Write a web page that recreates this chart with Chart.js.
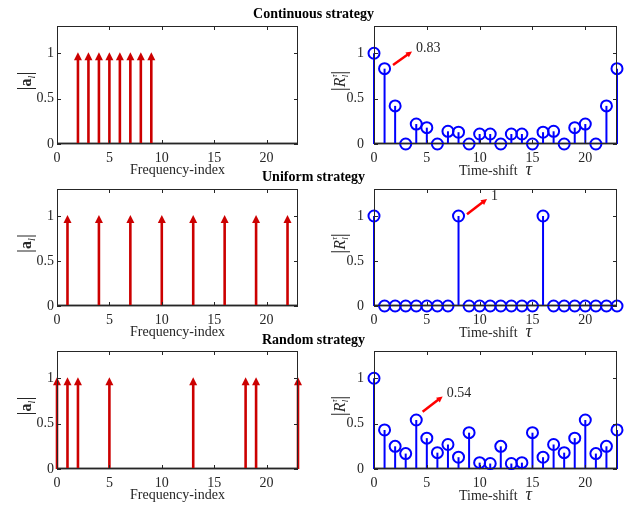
<!DOCTYPE html>
<html>
<head>
<meta charset="utf-8">
<script src="https://cdn.jsdelivr.net/npm/chart.js@4.4.1/dist/chart.umd.min.js"></script>
<style>
  body { margin:0; background:#fff; width:627px; height:509px; position:relative; overflow:hidden; font-family:"Liberation Serif", "Times New Roman", serif; }
  .box { position:absolute; }
  .title { position:absolute; left:0; width:627px; text-align:center; font-weight:bold; font-size:14px; line-height:16px; color:#000; z-index:5; }
</style>
</head>
<body>
<div class="title" style="top:6px">Continuous strategy</div>
<div class="title" style="top:169px">Uniform strategy</div>
<div class="title" style="top:332px">Random strategy</div>

<div class="box" style="left:0;top:6px"><canvas id="contFreqChart" width="313" height="175"></canvas></div>
<div class="box" style="left:313px;top:6px"><canvas id="contCorrChart" width="314" height="175"></canvas></div>
<div class="box" style="left:0;top:169px"><canvas id="uniFreqChart" width="313" height="174"></canvas></div>
<div class="box" style="left:313px;top:169px"><canvas id="uniCorrChart" width="314" height="174"></canvas></div>
<div class="box" style="left:0;top:331px"><canvas id="randFreqChart" width="313" height="175"></canvas></div>
<div class="box" style="left:313px;top:331px"><canvas id="randCorrChart" width="314" height="175"></canvas></div>

<script>
// tick labels
const xTicks = [0, 5, 10, 15, 20];
const yTicks = [0, 0.5, 1];

// active frequency indices (all amplitudes are 1)
const contFreq = [2, 3, 4, 5, 6, 7, 8, 9];
const uniFreq  = [1, 4, 7, 10, 13, 16, 19, 22];
const randFreq = [0, 1, 2, 5, 13, 18, 19, 23];

// time shifts and |R| values
const shifts = [0,1,2,3,4,5,6,7,8,9,10,11,12,13,14,15,16,17,18,19,20,21,22,23];
const contCorr = [1, 0.83, 0.42, 0, 0.22, 0.18, 0, 0.14, 0.13, 0, 0.11, 0.11, 0, 0.11, 0.11, 0, 0.13, 0.14, 0, 0.18, 0.22, 0, 0.42, 0.83];
const uniCorr  = [1, 0, 0, 0, 0, 0, 0, 0, 1, 0, 0, 0, 0, 0, 0, 0, 1, 0, 0, 0, 0, 0, 0, 0];
const randCorr = [1, 0.43, 0.25, 0.17, 0.54, 0.34, 0.18, 0.27, 0.13, 0.40, 0.07, 0.06, 0.25, 0.06, 0.07, 0.40, 0.13, 0.27, 0.18, 0.34, 0.54, 0.17, 0.25, 0.43];

// annotation arrows (data coords): start, end, label
const contNote = { from: [1.8, 0.87], to: [3.6, 1.02], text: "0.83" };
const uniNote  = { from: [8.8, 1.02], to: [10.7, 1.19], text: "1" };
const randNote = { from: [4.6, 0.63], to: [6.5, 0.80], text: "0.54" };

const SERIF = '"Liberation Serif", "Times New Roman", serif';
const AXIS_COLOR = "#262626";

// draw a rotated label made of styled pieces
function drawPieces(ctx, cx, cy, pieces) {
  ctx.save();
  ctx.translate(cx, cy);
  ctx.rotate(-Math.PI / 2);
  ctx.textBaseline = "middle";
  ctx.textAlign = "left";
  let total = 0;
  pieces.forEach(p => { ctx.font = p.font; p.w = ctx.measureText(p.text).width; if (p.advance !== false) total += p.w; });
  let x = -total / 2;
  pieces.forEach(p => {
    ctx.font = p.font;
    ctx.fillStyle = AXIS_COLOR;
    ctx.fillText(p.text, x, p.dy || 0);
    if (p.advance !== false) x += p.w;
  });
  ctx.restore();
}

const freqLabel = [
  { text: "|", font: "20px " + SERIF },
  { text: "a", font: "bold 16px " + SERIF, dy: 1 },
  { text: "l", font: "italic 10px " + SERIF, dy: 6 },
  { text: "|", font: "20px " + SERIF }
];
const corrLabel = [
  { text: "|", font: "20px " + SERIF },
  { text: "R", font: "italic 16px " + SERIF, dy: 1 },
  { text: "τ", font: "italic 8px " + SERIF, dy: -5, advance: false },
  { text: "l", font: "italic 9px " + SERIF, dy: 6 },
  { text: "|", font: "20px " + SERIF }
];

const stemPlugin = {
  id: "stems",
  beforeDatasetsDraw(chart, args, opts) {
    const { ctx, chartArea: a, scales: { x, y } } = chart;
    const y0 = y.getPixelForValue(0);
    ctx.save();
    // baseline
    ctx.strokeStyle = "#4a4a4a";
    ctx.lineWidth = 2;
    ctx.beginPath();
    ctx.moveTo(a.left, y0 - 0.5);
    ctx.lineTo(a.right, y0 - 0.5);
    ctx.stroke();

    chart.data.datasets.forEach(ds => {
      ds.data.forEach(p => {
        const px = x.getPixelForValue(p.x);
        const py = y.getPixelForValue(p.y);
        if (opts.kind === "arrow") {
          ctx.strokeStyle = "#cc0000";
          ctx.fillStyle = "#cc0000";
          ctx.lineWidth = 2.6;
          ctx.beginPath();
          ctx.moveTo(px, y0);
          ctx.lineTo(px, py + 5);
          ctx.stroke();
          ctx.beginPath();
          ctx.moveTo(px, py - 1);
          ctx.lineTo(px - 4, py + 7);
          ctx.lineTo(px + 4, py + 7);
          ctx.closePath();
          ctx.fill();
        } else if (p.y > 0) {
          ctx.strokeStyle = "#0000ff";
          ctx.lineWidth = 2;
          ctx.beginPath();
          ctx.moveTo(px, y0);
          ctx.lineTo(px, py);
          ctx.stroke();
        }
      });
    });
    ctx.restore();
  },
  afterDraw(chart, args, opts) {
    const { ctx, chartArea: a, scales: { x, y } } = chart;
    ctx.save();
    // box
    ctx.strokeStyle = AXIS_COLOR;
    ctx.lineWidth = 1;
    ctx.strokeRect(a.left + 0.5, a.top + 0.5, a.right - a.left - 1, a.bottom - a.top - 1);
    // inward ticks
    ctx.beginPath();
    xTicks.forEach(v => {
      const px = Math.round(x.getPixelForValue(v)) + 0.5;
      ctx.moveTo(px, a.bottom); ctx.lineTo(px, a.bottom - 4);
      ctx.moveTo(px, a.top); ctx.lineTo(px, a.top + 4);
    });
    yTicks.forEach(v => {
      const py = Math.round(y.getPixelForValue(v)) + 0.5;
      ctx.moveTo(a.left, py); ctx.lineTo(a.left + 4, py);
      ctx.moveTo(a.right, py); ctx.lineTo(a.right - 4, py);
    });
    ctx.stroke();

    // annotation arrow
    const n = opts.note;
    if (n) {
      const sx = x.getPixelForValue(n.from[0]), sy = y.getPixelForValue(n.from[1]);
      const ex = x.getPixelForValue(n.to[0]), ey = y.getPixelForValue(n.to[1]);
      const ang = Math.atan2(ey - sy, ex - sx);
      ctx.strokeStyle = "#ff0000";
      ctx.fillStyle = "#ff0000";
      ctx.lineWidth = 2.5;
      ctx.beginPath();
      ctx.moveTo(sx, sy);
      ctx.lineTo(ex - 4 * Math.cos(ang), ey - 4 * Math.sin(ang));
      ctx.stroke();
      ctx.beginPath();
      ctx.moveTo(ex, ey);
      ctx.lineTo(ex - 6 * Math.cos(ang) + 3 * Math.sin(ang), ey - 6 * Math.sin(ang) - 3 * Math.cos(ang));
      ctx.lineTo(ex - 6 * Math.cos(ang) - 3 * Math.sin(ang), ey - 6 * Math.sin(ang) + 3 * Math.cos(ang));
      ctx.closePath();
      ctx.fill();
      ctx.fillStyle = AXIS_COLOR;
      ctx.font = "14px " + SERIF;
      ctx.textAlign = "left";
      ctx.textBaseline = "middle";
      ctx.fillText(n.text, ex + 4, ey - 3);
    }

    // x axis label
    const cx = (a.left + a.right) / 2;
    ctx.fillStyle = AXIS_COLOR;
    ctx.textBaseline = "middle";
    if (opts.kind === "arrow") {
      ctx.font = "14px " + SERIF;
      ctx.textAlign = "center";
      ctx.fillText("Frequency-index", cx, a.bottom + 26);
    } else {
      ctx.font = "14px " + SERIF;
      const w1 = ctx.measureText("Time-shift").width;
      ctx.font = "italic 18px " + SERIF;
      const w2 = ctx.measureText("τ").width;
      const gap = 8;
      let sx = cx - (w1 + gap + w2) / 2;
      ctx.textAlign = "left";
      ctx.font = "14px " + SERIF;
      ctx.fillText("Time-shift", sx, a.bottom + 27);
      ctx.font = "italic 18px " + SERIF;
      ctx.fillText("τ", sx + w1 + gap, a.bottom + 26);
    }
    ctx.restore();

    // y axis label
    const lx = opts.kind === "arrow" ? a.left - 31 : a.left - 34;
    drawPieces(ctx, lx, (a.top + a.bottom) / 2 - 4, opts.kind === "arrow" ? freqLabel : corrLabel);
  }
};

function makeChart(id, points, kind, note, padLeft, padRight, yPad) {
  const isArrow = kind === "arrow";
  return new Chart(document.getElementById(id), {
    type: "scatter",
    data: {
      datasets: [{
        data: points,
        pointRadius: isArrow ? 0 : 5.5,
        pointBorderWidth: 2,
        pointBorderColor: "#0000ff",
        pointBackgroundColor: "rgba(0,0,0,0)",
        clip: false
      }]
    },
    options: {
      responsive: false,
      animation: false,
      events: [],
      layout: { padding: { left: padLeft, right: padRight, top: 20, bottom: 0 } },
      plugins: {
        legend: { display: false },
        tooltip: { enabled: false },
        stems: { kind: kind, note: note }
      },
      scales: {
        x: {
          type: "linear", min: 0, max: 23,
          grid: { display: false, drawTicks: false },
          border: { display: false },
          afterBuildTicks: s => { s.ticks = xTicks.map(v => ({ value: v })); },
          afterFit: s => { s.height = 37; },
          ticks: { color: AXIS_COLOR, font: { family: SERIF, size: 14 }, padding: 6, maxRotation: 0, autoSkip: false }
        },
        y: {
          min: 0, max: 1.3,
          grid: { display: false, drawTicks: false },
          border: { display: false },
          afterBuildTicks: s => { s.ticks = yTicks.map(v => ({ value: v })); },
          afterFit: s => { s.width = 30; },
          ticks: { color: AXIS_COLOR, font: { family: SERIF, size: 14 }, padding: yPad, callback: v => String(v) }
        }
      }
    },
    plugins: [stemPlugin]
  });
}

const toArrows = f => f.map(k => ({ x: k, y: 1 }));
const toStems = vals => shifts.map((t, i) => ({ x: t, y: vals[i] }));

makeChart("contFreqChart", toArrows(contFreq), "arrow", null, 27, 15, 3);
makeChart("contCorrChart", toStems(contCorr), "stem", contNote, 31, 10, 10);
makeChart("uniFreqChart", toArrows(uniFreq), "arrow", null, 27, 15, 3);
makeChart("uniCorrChart", toStems(uniCorr), "stem", uniNote, 31, 10, 10);
makeChart("randFreqChart", toArrows(randFreq), "arrow", null, 27, 15, 3);
makeChart("randCorrChart", toStems(randCorr), "stem", randNote, 31, 10, 10);
</script>
</body>
</html>
